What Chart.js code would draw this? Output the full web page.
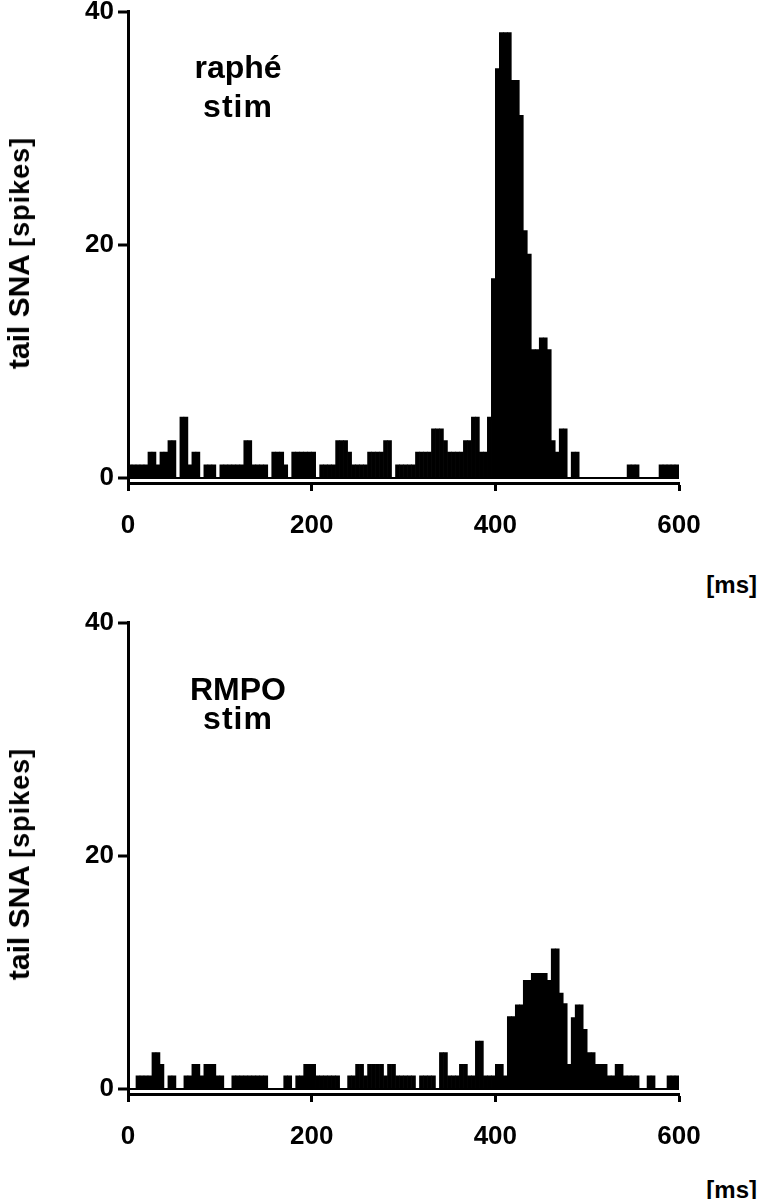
<!DOCTYPE html>
<html>
<head>
<meta charset="utf-8">
<script src="https://cdn.jsdelivr.net/npm/chart.js@4.4.1/dist/chart.umd.min.js"></script>
<style>
  html, body { margin: 0; padding: 0; background: #fff; }
  body { width: 759px; height: 1199px; position: relative; overflow: hidden;
         font-family: "Liberation Sans", Arial, sans-serif; font-weight: bold; color: #000; }
  .panel { position: absolute; left: 0; width: 759px; height: 568px; }
  .name { position: absolute; left: 158px; width: 160px; text-align: center; font-size: 32px; }
  .name .s { letter-spacing: 1px; }
  .unit { position: absolute; right: 2px; font-size: 24px; line-height: 28px; }
  .ytitle { position: absolute; left: 19px; white-space: nowrap; font-size: 30px;
            transform: translate(-50%, -50%) rotate(-90deg); }
  .ytitle span { font-size: 27px; letter-spacing: 1px; }
</style>
</head>
<body>
<div class="panel" style="top:-8px"><canvas id="raphe"></canvas></div>
<div class="panel" style="top:603px"><canvas id="rmpo"></canvas></div>

<div class="name" style="top:48px; line-height:39px">raphé<br><span class="s">stim</span></div>
<div class="name" style="top:675px; line-height:29px">RMPO<br><span class="s">stim</span></div>
<div class="ytitle" style="top:253px">tail SNA <span>[spikes]</span></div>
<div class="ytitle" style="top:864px">tail SNA <span>[spikes]</span></div>
<div class="unit" style="top:571px">[ms]</div>
<div class="unit" style="top:1176px">[ms]</div>

<script>
// spikes per bin, 138 bins over 0-600 ms
const rapheCounts = [
  1.1, 1.1, 1.1, 1.1, 1.1, 2.2, 2.2, 1.1, 2.2, 2.2,
  3.2, 3.2, 0, 5.2, 5.2, 1.1, 2.2, 2.2, 0, 1.1,
  1.1, 1.1, 0, 1.1, 1.1, 1.1, 1.1, 1.1, 1.1, 3.2,
  3.2, 1.1, 1.1, 1.1, 1.1, 0, 2.2, 2.2, 2.2, 1.1,
  0, 2.2, 2.2, 2.2, 2.2, 2.2, 2.2, 0, 1.1, 1.1,
  1.1, 1.1, 3.2, 3.2, 3.2, 2.2, 1.1, 1.1, 1.1, 1.1,
  2.2, 2.2, 2.2, 2.2, 3.2, 3.2, 0, 1.1, 1.1, 1.1,
  1.1, 1.1, 2.2, 2.2, 2.2, 2.2, 4.2, 4.2, 4.2, 3.2,
  2.2, 2.2, 2.2, 2.2, 3.2, 3.2, 5.2, 5.2, 2.2, 2.2,
  5.2, 17.1, 35.1, 38.2, 38.2, 38.2, 34.1, 34.1, 31.1, 21.2,
  19.2, 11, 11, 12, 12, 11, 3.2, 2.2, 4.2, 4.2,
  0, 2.2, 2.2, 0, 0, 0, 0, 0, 0, 0,
  0, 0, 0, 0, 0, 1.1, 1.1, 1.1, 0, 0,
  0, 0, 0, 1.1, 1.1, 1.1, 1.1, 1.1
]

const rmpoCounts = [
  0, 0, 1.1, 1.1, 1.1, 1.1, 3.1, 3.1, 2.1, 0,
  1.1, 1.1, 0, 0, 1.1, 1.1, 2.1, 2.1, 1.1, 2.1,
  2.1, 2.1, 1.1, 1.1, 0, 0, 1.1, 1.1, 1.1, 1.1,
  1.1, 1.1, 1.1, 1.1, 1.1, 0, 0, 0, 0, 1.1,
  1.1, 0, 1.1, 1.1, 2.1, 2.1, 2.1, 1.1, 1.1, 1.1,
  1.1, 1.1, 1.1, 0, 0, 1.1, 1.1, 2.1, 2.1, 1.1,
  2.1, 2.1, 2.1, 2.1, 1.1, 2.1, 2.1, 1.1, 1.1, 1.1,
  1.1, 1.1, 0, 1.1, 1.1, 1.1, 1.1, 0, 3.1, 3.1,
  1.1, 1.1, 1.1, 2.1, 2.1, 1.1, 1.1, 4.1, 4.1, 1.1,
  1.1, 1.1, 2.1, 2.1, 1.1, 6.2, 6.2, 7.2, 7.2, 9.3,
  9.3, 9.9, 9.9, 9.9, 9.9, 9.3, 12, 12, 8.2, 7.3,
  2.1, 6.1, 7.2, 7.2, 5.1, 3.1, 3.1, 2.1, 2.1, 2.1,
  1.1, 1.1, 2.1, 2.1, 1.1, 1.1, 1.1, 1.1, 0, 0,
  1.1, 1.1, 0, 0, 0, 1.1, 1.1, 1.1
]

const xTicks = [0, 200, 400, 600]
const yTicks = [0, 20, 40]
const binMs = 600 / rapheCounts.length

const tickFont = { family: '"Liberation Sans", Arial, sans-serif', size: 26, weight: 'bold' }

function makePanel(canvasId, counts) {
  const points = counts.map((v, i) => ({ x: (i + 0.5) * binMs, y: v }))
  return new Chart(document.getElementById(canvasId), {
    type: 'bar',
    data: {
      datasets: [{
        data: points,
        backgroundColor: '#000',
        borderWidth: 0,
        barPercentage: 1,
        categoryPercentage: 1
      }]
    },
    options: {
      responsive: true,
      maintainAspectRatio: false,
      animation: false,
      layout: { padding: { top: 10, right: 80, left: 0, bottom: 0 } },
      plugins: { legend: { display: false }, tooltip: { enabled: false } },
      scales: {
        x: {
          type: 'linear',
          min: 0,
          max: 600,
          offset: false,
          afterBuildTicks: s => { s.ticks = xTicks.map(v => ({ value: v })) },
          afterFit: s => { s.height = 77 },
          border: { display: true, color: '#000', width: 3 },
          grid: { offset: false, drawOnChartArea: false, drawTicks: true, tickLength: 8, tickWidth: 3, tickColor: '#000' },
          ticks: { color: '#000', font: tickFont, padding: 19, maxRotation: 0, autoSkip: false }
        },
        y: {
          min: -0.45,
          max: 40,
          afterBuildTicks: s => { s.ticks = yTicks.map(v => ({ value: v })) },
          afterFit: s => { s.width = 128 },
          border: { display: true, color: '#000', width: 3 },
          grid: {
            drawOnChartArea: true,
            color: c => (c.tick && c.tick.value === 0 ? '#000' : 'rgba(0,0,0,0)'),
            lineWidth: 2,
            tickLength: 10,
            tickWidth: 3,
            tickColor: '#000'
          },
          ticks: { color: '#000', font: tickFont, padding: 4 }
        }
      }
    }
  })
}

makePanel('raphe', rapheCounts)
makePanel('rmpo', rmpoCounts)
</script>
</body>
</html>
